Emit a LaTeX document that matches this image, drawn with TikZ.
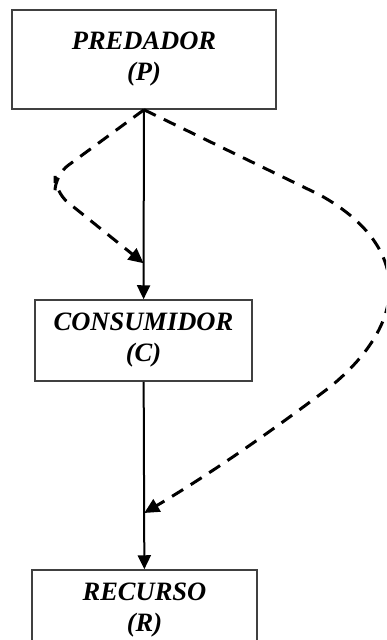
\documentclass[tikz,border=0pt]{standalone}
\usepackage{fontspec}
\setmainfont{Liberation Serif}
\usepackage{tikz}
\usetikzlibrary{arrows.meta, calc}

\begin{document}
\begin{tikzpicture}[
        x=1pt, y=-1pt,
        font=\fontsize{26.5}{31}\selectfont\bfseries\itshape,
        bx/.style={rectangle, draw=black!75, line width=1.5pt, fill=white, align=center,
            inner sep=0pt},
        arr/.style={-{Triangle[length=14pt, width=13pt]}, line width=2pt},
        darr/.style={-{Triangle[length=15pt, width=14pt]}, line width=3pt,
            dash pattern=on 13pt off 9pt}
    ]
    \useasboundingbox (0,0) rectangle (386,640);
    \clip (0,0) rectangle (386,640);
    \node[bx, minimum width=264pt, minimum height=99pt] (pred) at (144,59.5) {PREDADOR\\(P)};
    \node[bx, minimum width=217pt, minimum height=81pt] (cons) at (143.5,340.5) {CONSUMIDOR\\(C)};
    \node[bx, minimum width=225pt, minimum height=81pt] (rec) at (144.5,610.5) {RECURSO\\(R)};
    \coordinate (hitC) at ($(pred.south)!0.81!(cons.north)$);
    \coordinate (hitR) at ($(cons.south)!0.70!(rec.north)$);
    \draw[arr] (pred) -- (cons);
    \draw[arr] (cons) -- (rec);
    % predador -> consumidor
    \draw[darr, rounded corners=16pt] (pred.south) -- (55,175) -- (55,192) -- (hitC);
    % predador -> recurso
    \draw[darr] (pred.south) -- (320,195) .. controls (410,245) and (412,320) .. (330,387)
        .. controls (260,440) and (200,480) .. (hitR);
\end{tikzpicture}
\end{document}
